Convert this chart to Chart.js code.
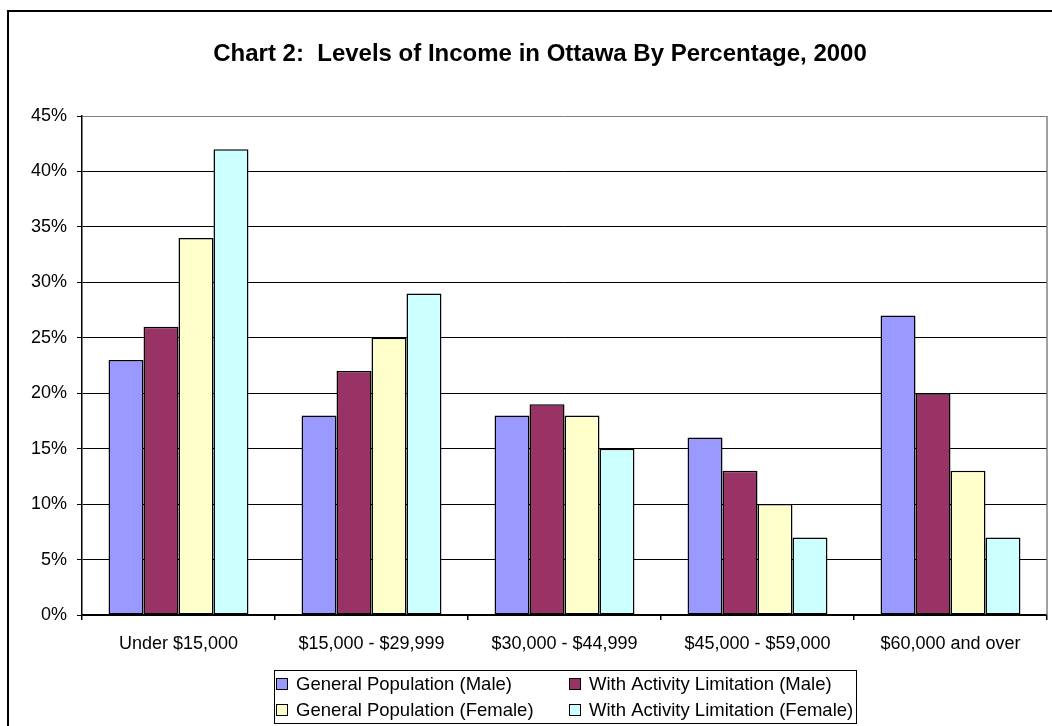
<!DOCTYPE html>
<html>
<head>
<meta charset="utf-8">
<title>Levels of Income in Ottawa</title>
<script src="https://cdn.jsdelivr.net/npm/chart.js@4.4.1/dist/chart.umd.min.js"></script>
<style>
  html, body { margin: 0; padding: 0; background: #fff; }
  canvas { display: block; }
</style>
</head>
<body>
<canvas id="incomeChart" width="1052" height="726"></canvas>
<script>
const chartTitle = 'Chart 2:  Levels of Income in Ottawa By Percentage, 2000';
const incomeBands = ['Under $15,000', '$15,000 - $29,999', '$30,000 - $44,999', '$45,000 - $59,000', '$60,000 and over'];
const seriesNames = ['General Population (Male)', 'With Activity Limitation (Male)', 'General Population (Female)', 'With Activity Limitation (Female)'];
const genPopMale = [23, 18, 18, 16, 27];
const limitMale = [26, 22, 19, 13, 20];
const genPopFemale = [34, 25, 18, 10, 13];
const limitFemale = [42, 29, 15, 7, 7];
const seriesColors = ['#9999FF', '#993366', '#FFFFCC', '#CCFFFF'];
const yTicks = [0, 5, 10, 15, 20, 25, 30, 35, 40, 45];

Chart.defaults.font.family = 'Arial, "Liberation Sans", sans-serif';
Chart.defaults.color = '#000';

const values = [genPopMale, limitMale, genPopFemale, limitFemale];

const datasets = seriesNames.map((name, i) => ({
    label: name,
    data: values[i],
    backgroundColor: seriesColors[i],
    borderColor: '#000',
    borderWidth: 1.5,
    borderSkipped: false,
    categoryPercentage: 0.725,
    barPercentage: 1
}));

// frame, title, right edge of the plot and the boxed legend
const decorations = {
    id: 'decorations',
    beforeDraw(chart) {
        const c = chart.ctx;
        c.save();
        c.fillStyle = '#fff';
        c.fillRect(0, 0, chart.width, chart.height);
        c.restore();
    },
    afterDraw(chart) {
        const c = chart.ctx;
        const area = chart.chartArea;
        c.save();

        c.strokeStyle = '#000';
        c.lineWidth = 2;
        c.strokeRect(8, 11, 1100, 800);

        c.strokeStyle = '#808080';
        c.lineWidth = 1.5;
        c.beginPath();
        c.moveTo(area.right, area.top);
        c.lineTo(area.right, area.bottom);
        c.stroke();

        c.fillStyle = '#000';
        c.font = 'bold 24px Arial, "Liberation Sans", sans-serif';
        c.textAlign = 'center';
        c.textBaseline = 'middle';
        c.fillText(chartTitle, 540, 54);

        // legend box
        c.strokeStyle = '#000';
        c.lineWidth = 1;
        c.strokeRect(274.5, 670.5, 582, 53);
        const cols = [276, 569];
        const rows = [684, 710];
        c.font = '18.5px Arial, "Liberation Sans", sans-serif';
        c.textAlign = 'left';
        chart.data.datasets.forEach((ds, i) => {
            const x = cols[i % 2];
            const y = rows[Math.floor(i / 2)];
            c.fillStyle = ds.backgroundColor;
            c.fillRect(x, y - 6, 12, 12);
            c.strokeStyle = '#000';
            c.lineWidth = 1;
            c.strokeRect(x + 0.5, y - 5.5, 11, 11);
            c.fillStyle = '#000';
            c.fillText(ds.label, x + 20, y + 1);
        });
        c.restore();
    }
};

new Chart(document.getElementById('incomeChart'), {
    type: 'bar',
    data: { labels: incomeBands, datasets: datasets },
    options: {
        responsive: false,
        animation: false,
        layout: { padding: { top: 116, left: 0, right: 5, bottom: 0 } },
        scales: {
            x: {
                afterFit(scale) { scale.height = 111; },
                grid: {
                    offset: true,
                    drawOnChartArea: false,
                    drawTicks: true,
                    tickLength: 5,
                    tickColor: '#000',
                    lineWidth: 1.5
                },
                border: { color: '#000', width: 1.5 },
                ticks: { font: { size: 18 }, padding: 13, maxRotation: 0 }
            },
            y: {
                min: 0,
                max: 45,
                afterFit(scale) { scale.width = 82; },
                afterBuildTicks(scale) { scale.ticks = yTicks.map(v => ({ value: v })); },
                grid: {
                    color: ctx => (ctx.tick && ctx.tick.value === 45 ? '#808080' : '#000'),
                    lineWidth: 1,
                    tickLength: 5,
                    tickColor: '#000'
                },
                border: { color: '#000', width: 1.5 },
                ticks: { font: { size: 18 }, padding: 10, callback: v => v + '%' }
            }
        },
        plugins: {
            legend: { display: false },
            title: { display: false },
            tooltip: { enabled: false }
        }
    },
    plugins: [decorations]
});
</script>
</body>
</html>
